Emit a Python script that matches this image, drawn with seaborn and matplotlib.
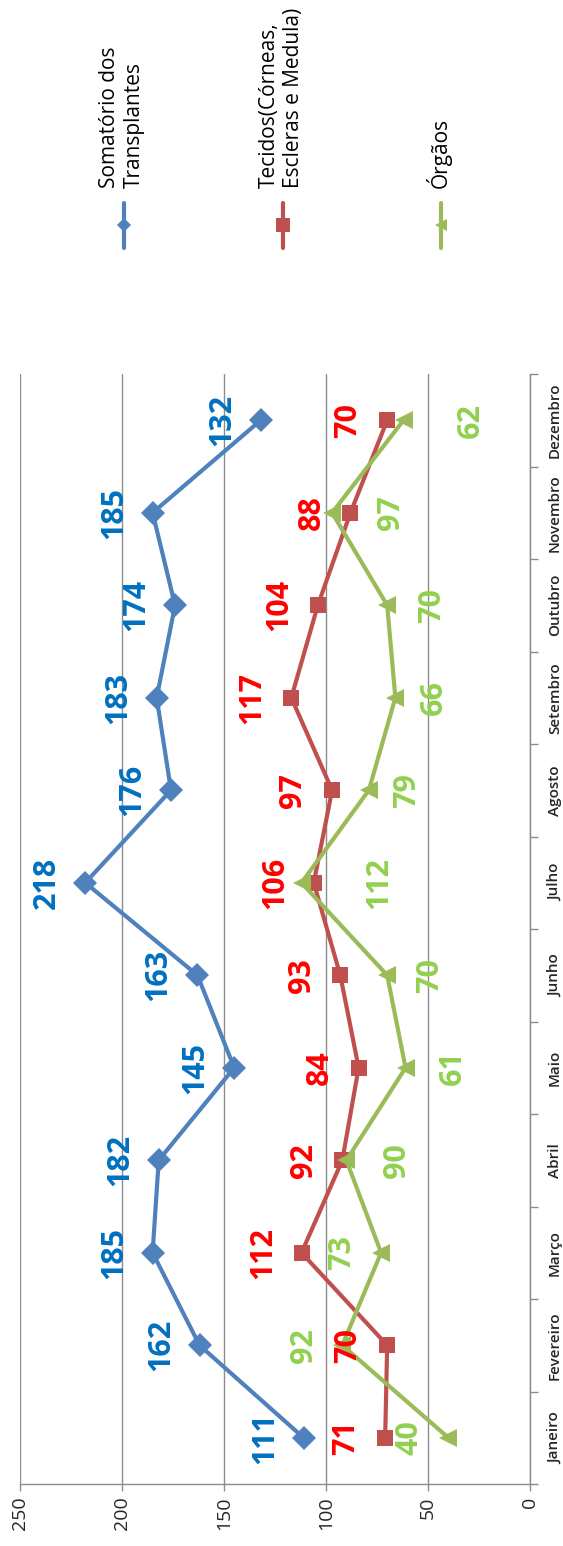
import numpy as np
import pandas as pd
import matplotlib
matplotlib.use('Agg')
import matplotlib.pyplot as plt
import seaborn as sns

# Dados (transplantes por mes)
meses = ['Janeiro', 'Fevereiro', 'Março', 'Abril', 'Maio', 'Junho',
         'Julho', 'Agosto', 'Setembro', 'Outubro', 'Novembro', 'Dezembro']
somatorio = [111, 162, 185, 182, 145, 163, 218, 176, 183, 174, 185, 132]
tecidos = [71, 70, 112, 92, 84, 93, 106, 97, 117, 104, 88, 70]
orgaos = [40, 92, 73, 90, 61, 70, 112, 79, 66, 70, 97, 62]

nomes = ['Somatório dos\nTransplantes',
         'Tecidos(Córneas,\nEscleras e Medula)',
         'Órgãos']
eixo_valores = [0, 50, 100, 150, 200, 250]

# deslocamento dos rotulos (em unidades do eixo de valores)
desloc_somatorio = [19] * 12
desloc_tecidos = [19] * 12
desloc_orgaos = [19, 19, 19, -25, -23, -21, -38, -19, -19, -22, -29, -33]

sns.set_style('white')
plt.rcParams['font.family'] = ['Open Sans', 'DejaVu Sans']

W, H = 563, 1546
fig = plt.figure(figsize=(W / 100, H / 100), dpi=100)
ax = fig.add_axes([20 / W, (H - 1484) / H, (530 - 20) / W, (1484 - 374) / H])

df = pd.DataFrame({
    'mes': np.arange(len(meses)).tolist() * 3,
    'valor': somatorio + tecidos + orgaos,
    'serie': [nomes[0]] * 12 + [nomes[1]] * 12 + [nomes[2]] * 12,
})

estilos = [
    ('#4F81BD', 'D', 12, '#0070C0', desloc_somatorio),
    ('#C0504D', 's', 11, '#FF0000', desloc_tecidos),
    ('#9BBB59', '<', 13, '#92D050', desloc_orgaos),
]

for nome, (cor, marc, ms, cor_txt, desloc) in zip(nomes, estilos):
    sub = df[df['serie'] == nome]
    sns.lineplot(data=sub, x='valor', y='mes', orient='y', sort=False,
                 color=cor, marker=marc, markersize=ms, markeredgewidth=0,
                 linewidth=3, ax=ax, legend=False, zorder=3)
    for i, (v, d) in enumerate(zip(sub['valor'], desloc)):
        ax.text(v + d, i, str(v), rotation=90, ha='center', va='center',
                color=cor_txt, fontsize=22, fontweight='bold', zorder=4)

ax.set_xlim(250, 0)
ax.set_ylim(-0.5, 11.5)
ax.set_xlabel('')
ax.set_ylabel('')

ax.set_xticks(eixo_valores)
ax.set_xticklabels([str(v) for v in eixo_valores])
ax.grid(axis='x', color='#8C8C8C', linewidth=1)
ax.grid(axis='y', visible=False)
ax.set_axisbelow(True)
ax.tick_params(axis='x', labelrotation=90, length=5, width=1,
               color='#8C8C8C', labelsize=14, pad=4, bottom=True)

ax.yaxis.tick_right()
ax.set_yticks(range(len(meses)))
ax.set_yticklabels(meses)
ax.set_yticks(np.arange(-0.5, len(meses), 1), minor=True)
ax.tick_params(axis='y', which='major', length=0, labelrotation=90,
               labelsize=11, pad=13)
ax.tick_params(axis='y', which='minor', length=6, width=1,
               color='#8C8C8C', right=True, left=False)
for lbl in ax.get_yticklabels():
    lbl.set_va('center')
    lbl.set_fontweight('semibold')

for s in ['top', 'left']:
    ax.spines[s].set_visible(False)
for s in ['right', 'bottom']:
    ax.spines[s].set_color('#8C8C8C')
    ax.spines[s].set_linewidth(1)

# legenda desenhada a mao (texto girado)
leg = fig.add_axes([0, 0, 1, 1])
leg.set_xlim(0, W)
leg.set_ylim(H, 0)
leg.axis('off')
leg_x = [124, 283, 441]
leg_ms = [7, 10, 8]
for nome, (cor, marc, ms, _, _), x, lms in zip(nomes, estilos, leg_x, leg_ms):
    leg.plot([x, x], [203, 248], color=cor, linewidth=3)
    leg.plot([x], [225], marker=marc, color=cor, markersize=lms,
             markeredgewidth=0)
    leg.text(x - 2, 188, nome, rotation=90, ha='center', va='bottom',
             multialignment='left', fontsize=15, color='black')

fig.savefig('out.png', dpi=100)
